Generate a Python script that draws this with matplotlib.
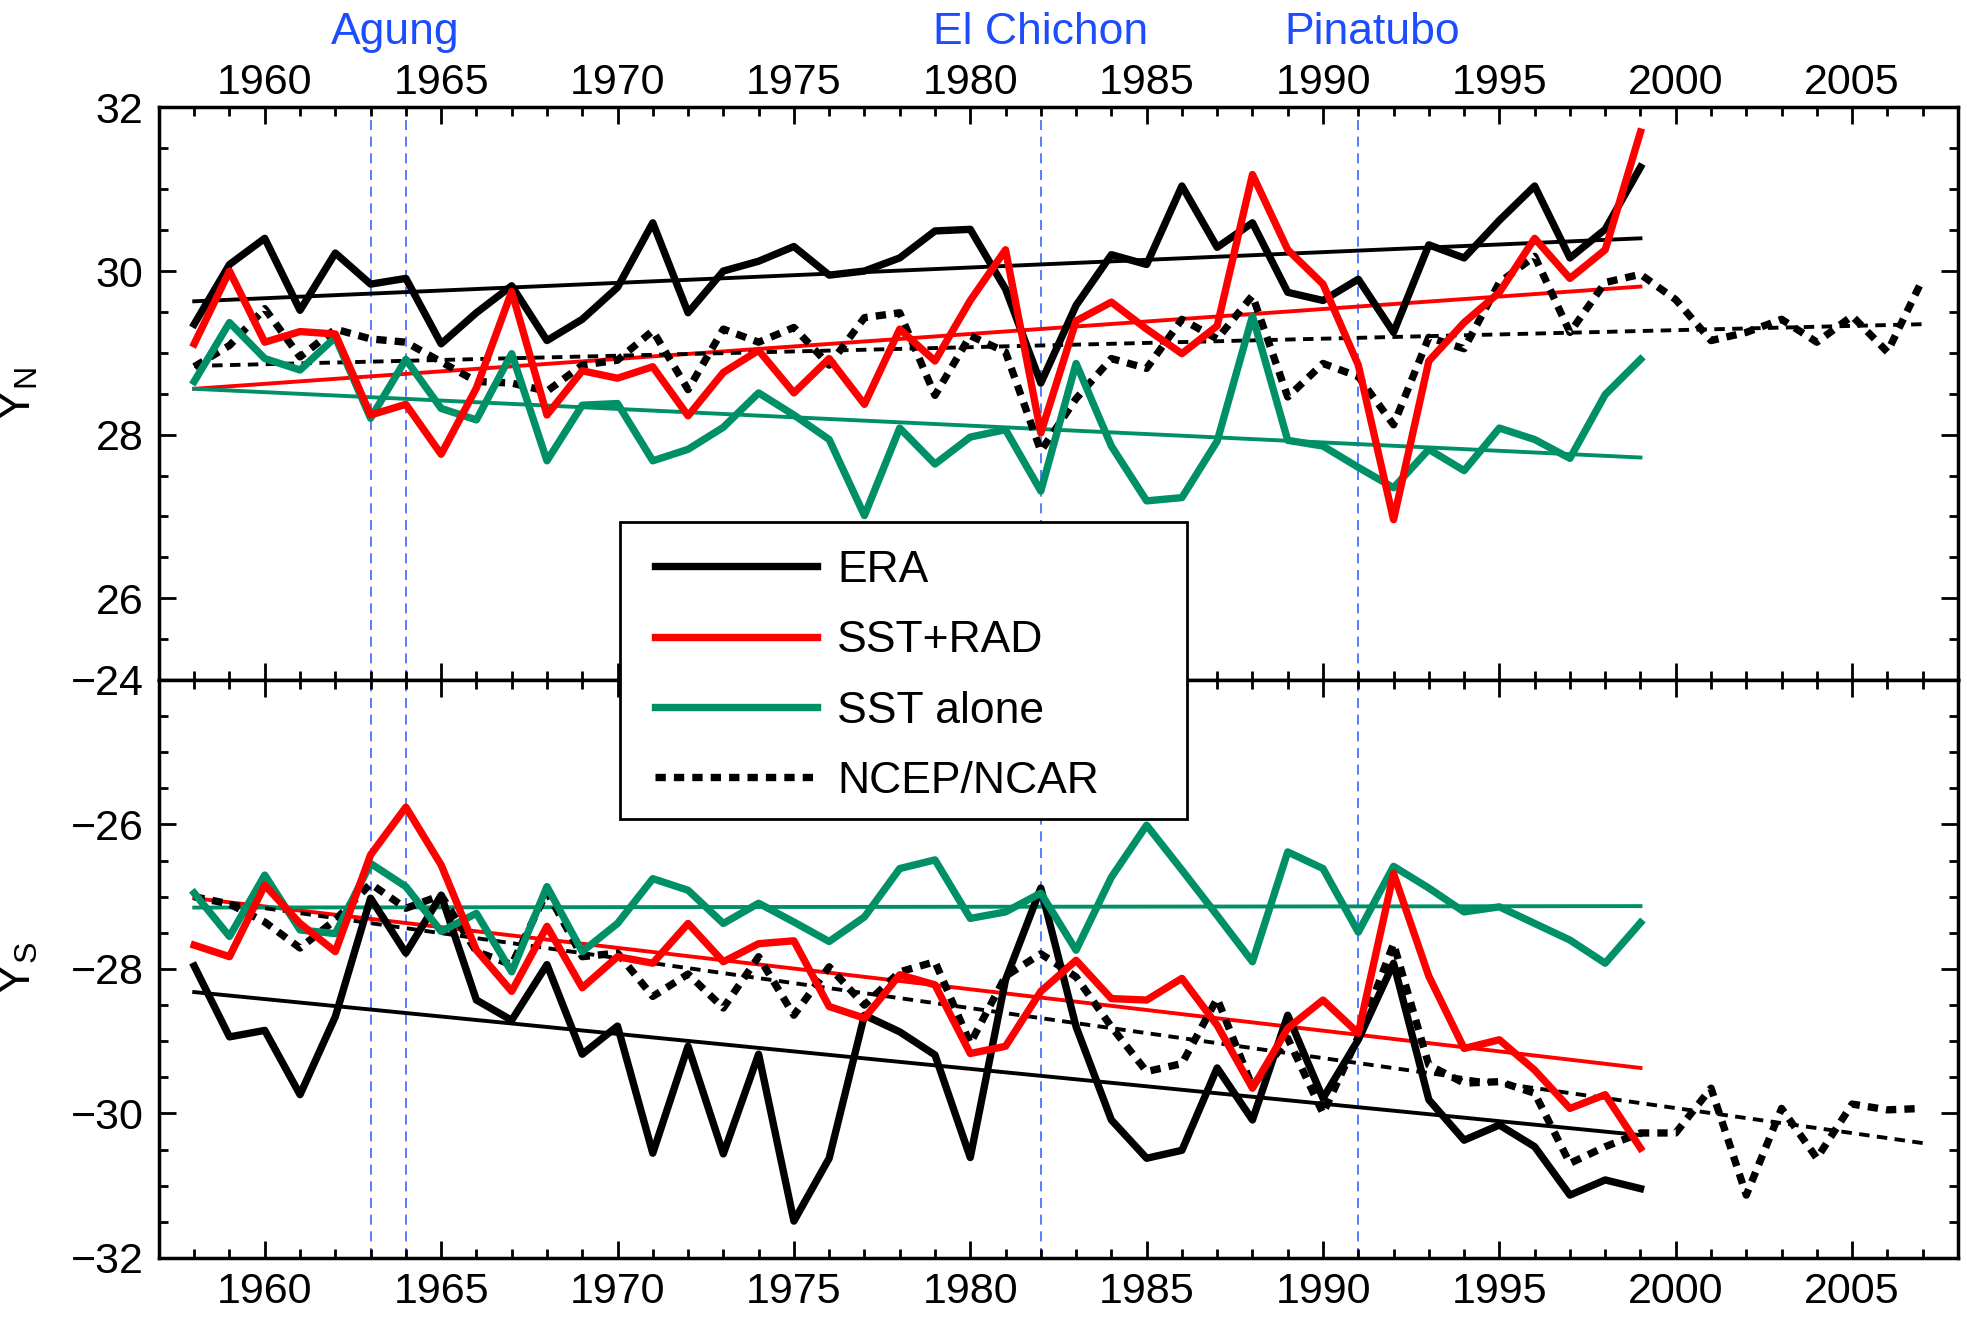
import numpy as np
import matplotlib.pyplot as plt
from matplotlib.ticker import MultipleLocator
from matplotlib.patches import Rectangle

plt.rcParams['font.family'] = ['Liberation Sans', 'DejaVu Sans']
plt.rcParams['mathtext.default'] = 'regular'

# years of the model runs and of the reanalysis
years = np.arange(1958, 2000)
years_ncep = np.arange(1958, 2008)

# northern edge, Y_N
era_n = [29.35, 30.08, 30.40, 29.52, 30.22, 29.84, 29.91, 29.11, 29.49, 29.82,
         29.15, 29.41, 29.80, 30.59, 29.49, 30.00, 30.12, 30.30, 29.95, 30.00,
         30.16, 30.49, 30.51, 29.78, 28.63, 29.58, 30.20, 30.08, 31.04, 30.29,
         30.59, 29.74, 29.64, 29.90, 29.25, 30.32, 30.16, 30.62, 31.04, 30.16,
         30.51, 31.27]
sstrad_n = [29.11, 30.00, 29.13, 29.26, 29.23, 28.24, 28.37, 27.76, 28.57, 29.75,
            28.24, 28.78, 28.69, 28.83, 28.23, 28.76, 29.03, 28.51, 28.93, 28.37,
            29.29, 28.90, 29.64, 30.26, 28.02, 29.39, 29.62, 29.29, 28.99, 29.33,
            31.18, 30.26, 29.84, 28.85, 26.96, 28.90, 29.37, 29.74, 30.40, 29.91,
            30.26, 31.70]
sst_n = [28.65, 29.37, 28.93, 28.79, 29.19, 28.20, 28.92, 28.32, 28.18, 28.99,
         27.68, 28.36, 28.38, 27.68, 27.82, 28.09, 28.51, 28.24, 27.94, 27.01,
         28.08, 27.64, 27.97, 28.06, 27.31, 28.87, 27.86, 27.19, 27.23, 27.92,
         29.45, 27.93, 27.86, 27.60, 27.35, 27.82, 27.56, 28.08, 27.94, 27.71,
         28.49, 28.92]
ncep_n = [28.83, 29.09, 29.54, 28.95, 29.29, 29.17, 29.13, 28.89, 28.65, 28.63,
          28.53, 28.85, 28.91, 29.27, 28.55, 29.29, 29.13, 29.31, 28.85, 29.43,
          29.49, 28.48, 29.21, 29.01, 27.80, 28.44, 28.93, 28.81, 29.41, 29.17,
          29.70, 28.46, 28.87, 28.71, 28.12, 29.19, 29.05, 29.86, 30.18, 29.25,
          29.86, 29.96, 29.65, 29.15, 29.25, 29.41, 29.13, 29.45, 29.01, 29.90]

# southern edge, Y_S
era_s = [-27.96, -28.94, -28.85, -29.74, -28.66, -27.02, -27.78, -26.98, -28.43, -28.71,
         -27.94, -29.18, -28.79, -30.55, -29.07, -30.56, -29.18, -31.49, -30.62, -28.64,
         -28.87, -29.19, -30.61, -28.15, -26.88, -28.80, -30.09, -30.62, -30.51, -29.37,
         -30.09, -28.64, -29.79, -28.98, -27.92, -29.81, -30.37, -30.16, -30.46, -31.13,
         -30.92, -31.04]
sstrad_s = [-27.67, -27.83, -26.84, -27.37, -27.76, -26.42, -25.76, -26.56, -27.74, -28.31,
            -27.41, -28.26, -27.83, -27.92, -27.37, -27.90, -27.65, -27.61, -28.52, -28.68,
            -28.08, -28.22, -29.17, -29.07, -28.31, -27.88, -28.41, -28.43, -28.13, -28.78,
            -29.65, -28.82, -28.43, -28.89, -26.68, -28.10, -29.10, -28.98, -29.40, -29.93,
            -29.74, -30.48]
sst_s = [-26.95, -27.55, -26.70, -27.46, -27.51, -26.54, -26.86, -27.48, -27.23, -28.04,
         -26.86, -27.76, -27.37, -26.75, -26.91, -27.37, -27.09, -27.35, -27.62, -27.28,
         -26.61, -26.49, -27.30, -27.21, -26.95, -27.74, -26.73, -26.01, -26.63, -27.26,
         -27.90, -26.38, -26.61, -27.49, -26.58, -26.88, -27.21, -27.14, -27.37, -27.60,
         -27.92, -27.36]
ncep_s = [-27.00, -27.10, -27.35, -27.71, -27.32, -26.82, -27.16, -26.98, -27.76, -27.94,
          -26.93, -27.83, -27.78, -28.38, -28.07, -28.54, -27.83, -28.64, -27.97, -28.50,
          -28.04, -27.90, -29.03, -28.10, -27.79, -28.11, -28.80, -29.42, -29.31, -28.41,
          -29.63, -28.96, -30.00, -28.94, -27.65, -29.33, -29.58, -29.56, -29.72, -30.69,
          -30.46, -30.27, -30.27, -29.65, -31.13, -29.93, -30.62, -29.87, -29.95, -29.93]

# linear trends, value at first and last year
trend_era_n = [29.63, 30.40]
trend_sstrad_n = [28.56, 29.81]
trend_sst_n = [28.56, 27.72]
trend_ncep_n = [28.84, 29.35]
trend_era_s = [-28.32, -30.30]
trend_sstrad_s = [-27.02, -29.37]
trend_sst_s = [-27.15, -27.13]
trend_ncep_s = [-27.02, -30.41]

# volcanic eruptions
volcano_years = [1963, 1964, 1982, 1991]
volcano_names = ['Agung', 'El Chichon', 'Pinatubo']
volcano_label_x = [1963.7, 1982, 1991.4]

red = '#ff0000'
green = '#009068'
blue = '#1d4cff'
lw_series = 5.3
lw_trend = 2.8
dots = (0, (1.4, 1.1))
dashes = (0, (2.7, 1.9))

fig = plt.figure(figsize=(19.67, 13.25), dpi=100)
ax1 = fig.add_axes([0.0808, 0.4868, 0.9146, 0.4321])
ax2 = fig.add_axes([0.0808, 0.0506, 0.9146, 0.4362])

panels = [
    (ax1, era_n, sstrad_n, sst_n, ncep_n, trend_era_n, trend_sstrad_n, trend_sst_n, trend_ncep_n),
    (ax2, era_s, sstrad_s, sst_s, ncep_s, trend_era_s, trend_sstrad_s, trend_sst_s, trend_ncep_s),
]

for ax, era, sstrad, sst, ncep, t_era, t_sstrad, t_sst, t_ncep in panels:
    for yr in volcano_years:
        ax.axvline(yr, color='#3a66ff', lw=1.2, linestyle=(0, (6, 4)), zorder=1)

    # trend lines
    ends = [years[0], years[-1]]
    ax.plot(ends, t_era, color='black', lw=lw_trend, zorder=2)
    ax.plot(ends, t_sstrad, color=red, lw=lw_trend, zorder=2)
    ax.plot(ends, t_sst, color=green, lw=lw_trend, zorder=2)
    ax.plot([years_ncep[0], years_ncep[-1]], t_ncep, color='black', lw=lw_trend,
            linestyle=dashes, zorder=2)

    # the series
    ax.plot(years_ncep, ncep, color='black', lw=lw_series, linestyle=dots,
            dash_capstyle='butt', zorder=3, label='NCEP/NCAR')
    ax.plot(years, era, color='black', lw=lw_series, zorder=3, label='ERA')
    ax.plot(years, sst, color=green, lw=lw_series, zorder=3, label='SST alone')
    ax.plot(years, sstrad, color=red, lw=lw_series, zorder=3, label='SST+RAD')

    ax.set_xlim(1957, 2008)
    ax.xaxis.set_major_locator(MultipleLocator(5))
    ax.xaxis.set_minor_locator(MultipleLocator(1))
    ax.yaxis.set_major_locator(MultipleLocator(2))
    ax.yaxis.set_minor_locator(MultipleLocator(0.5))
    ax.tick_params(which='both', direction='in', top=True, right=True, width=2,
                   labelsize=31)
    ax.tick_params(which='major', length=12.5)
    ax.tick_params(which='minor', length=6.5)
    ax.tick_params(axis='y', pad=11)
    for sp in ax.spines.values():
        sp.set_linewidth(2.5)

ax1.set_ylim(25, 32)
ax2.set_ylim(-32, -24)
ax1.tick_params(axis='x', labeltop=True, labelbottom=False, pad=3)
ax2.tick_params(axis='x', pad=10)

ax1.set_ylabel('$Y_N$', fontsize=33)
ax2.set_ylabel('$Y_S$', fontsize=33)
ax1.yaxis.set_label_coords(-0.066, 0.5)
ax2.yaxis.set_label_coords(-0.066, 0.5)

for name, x in zip(volcano_names, volcano_label_x):
    ax1.text(x, 1.11, name, transform=ax1.get_xaxis_transform(), ha='center',
             va='baseline', color=blue, fontsize=32)

# legend box sits across both panels
fig.patches.append(Rectangle((0.3152, 0.3819), 0.2883, 0.2242, transform=fig.transFigure,
                             facecolor='white', edgecolor='black', lw=2, zorder=4))
h, l = ax1.get_legend_handles_labels()
order = [1, 3, 2, 0]
fig.legend([h[i] for i in order], [l[i] for i in order], loc='upper left',
           bbox_to_anchor=(655 / 1967, 1 - 550 / 1325), frameon=False, fontsize=32,
           handlelength=3.65, handletextpad=0.45, labelspacing=0.66, borderpad=0,
           borderaxespad=0)

fig.savefig('out.png', dpi=100)
